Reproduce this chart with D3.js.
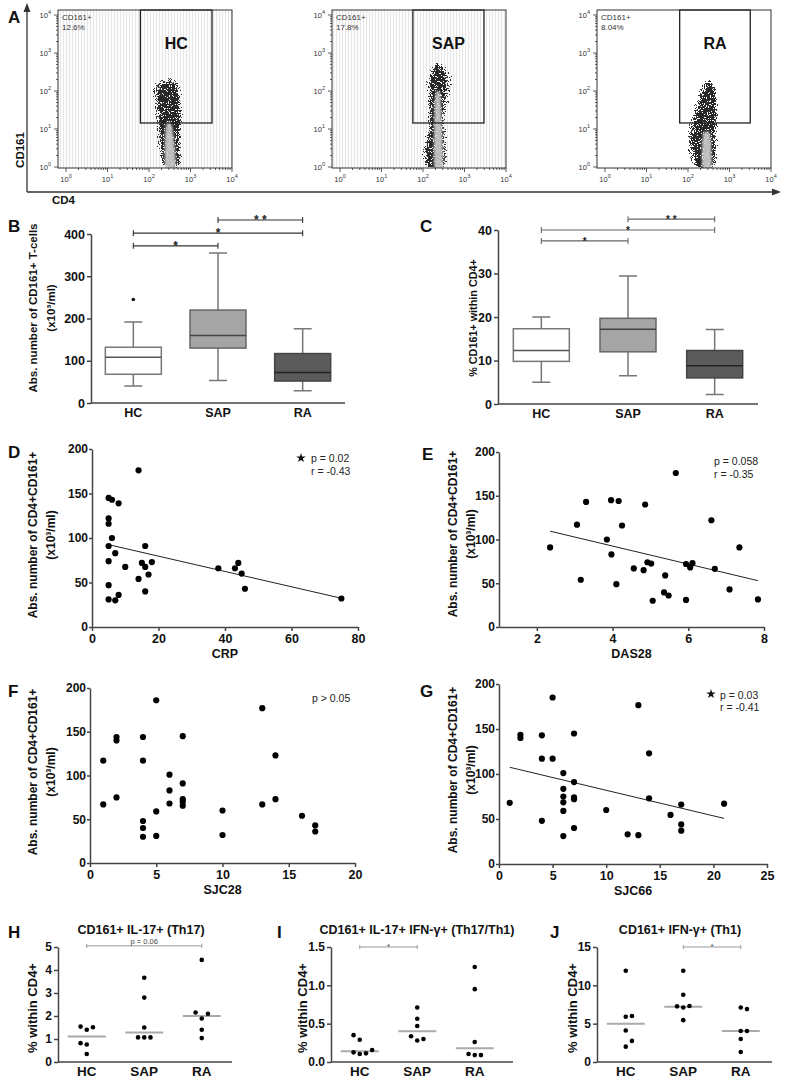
<!DOCTYPE html>
<html><head><meta charset="utf-8">
<script src="https://cdn.jsdelivr.net/npm/d3@7/dist/d3.min.js"></script>
<style>html,body{margin:0;padding:0;background:#fff}svg{display:block}</style>
</head><body><svg id="fig" width="790" height="1084"></svg>
<script>
// ================= DATA =================
// Panel A: flow cytometry, CD4 (x) vs CD161 (y)
const flowGroups = ["HC", "SAP", "RA"];
const flowPercents = ["12.6%", "17.8%", "8.04%"];
const flowDecades = [1, 10, 100, 1000, 10000];
const gateCD4Low = [62, 57, 63];
const gateCD4High = [3300, 2950, 3160];
const gateCD161Low = [14.4, 14.4, 14.4];
// event-cloud outlines as [CD4, CD161] pairs
const hcHalo = [[200,0.9],[140,3],[125,10],[120,32],[95,80],[110,150],[200,260],[320,280],[500,230],[700,130],[760,32],[750,10],[720,3],[680,0.9]];
const hcBody = [[220,0.9],[170,3],[160,10],[152,32],[140,90],[195,170],[290,200],[420,180],[580,90],[650,32],[640,10],[610,3],[590,0.9]];
const hcCore = [[250,0.9],[240,3],[250,10],[290,16],[360,12],[420,3],[430,0.9]];
const sapHalo = [[100,0.9],[85,3],[110,14],[100,150],[150,600],[240,700],[330,600],[600,200],[420,14],[460,3],[400,0.9]];
const sapBody = [[118,0.9],[105,3],[135,14],[130,160],[175,500],[240,580],[300,500],[420,160],[330,14],[370,3],[330,0.9]];
const sapCore = [[190,0.9],[185,10],[200,80],[260,85],[290,10],[300,0.9]];
const raHalo = [[120,0.9],[80,5],[100,21],[160,120],[260,250],[400,240],[600,110],[650,21],[600,5],[540,0.9]];
const raBody = [[150,0.9],[105,5],[135,21],[195,107],[275,200],[380,200],[500,107],[540,21],[500,5],[470,0.9]];
const raCore = [[225,0.9],[220,4],[240,8],[330,8],[360,4],[365,0.9]];

// Panels B, C: box plots
const boxCats = ["HC", "SAP", "RA"];
const bLow = [40, 53, 29], bQ1 = [68, 130, 52], bMed = [108, 160, 72], bQ3 = [132, 220, 117], bHigh = [192, 355, 176];
const bOutlierCats = ["HC"], bOutlierVals = [245];
const bTicks = [0, 100, 200, 300, 400];
const bBrackets = [["SAP", "RA", "* *", 433], ["HC", "RA", "*", 402], ["HC", "SAP", "*", 372]];
const cLow = [5, 6.5, 2.2], cQ1 = [9.8, 12, 6], cMed = [12.3, 17.2, 8.8], cQ3 = [17.3, 19.7, 12.3], cHigh = [20, 29.4, 17.1];
const cTicks = [0, 10, 20, 30, 40];
const cBrackets = [["SAP", "RA", "* *", 42.5], ["HC", "RA", "*", 40], ["HC", "SAP", "*", 37.5]];

// Panels D-G: correlations with CD4+CD161+ absolute numbers
const absTicks = [0, 50, 100, 150, 200];
const dCRP = [5,6,8,5,5,6,5,7,5,10,5,5,7,8,14,16,15,16,18,17,14,16,38,43,44,45,46,75];
const dAbs = [145,143,139,122,116,100,91,83,74,67.5,47,31,30,36,176,91,72,67.5,73,59,54,40,66,66,72,60,43,32];
const dTrend = [-0.86, 96.8];
const dTicks = [0, 20, 40, 60, 80];
const eDAS = [2.35,3.06,3.16,3.3,3.85,3.96,3.97,4.1,4.16,4.25,4.56,4.82,4.86,4.92,5.02,5.06,5.39,5.36,5.48,5.67,5.94,5.94,6.05,6.11,6.61,6.7,7.09,7.35,7.84];
const eAbs = [91,117,54,143,100,145,83,49,144,116,67,65,140,74,72.5,30,59,39.5,36,176,72,31,68,73,122,66.5,43,91,31.5];
const eTrend = [-10.3, 133.7];
const eTicks = [2, 4, 6, 8];
const fSJC = [1,1,2,2,2,4,4,4,4,4,5,5,5,6,6,6,7,7,7,7,7,10,10,13,13,14,14,16,17,17];
const fAbs = [117,67,144,140,75,144,117,48,40,30,186,59,31,101,83,68,145,91,73,70,65.5,60,32,177,67,123,73,54,43,36];
const fTicks = [0, 5, 10, 15, 20];
const gSJC = [1,2,2,4,4,4,5,5,6,6,6,6,6,6,7,7,7,7,7,10,12,13,13,14,14,16,17,17,17,21];
const gAbs = [68,143.5,140,143,117,48,185,117,101,83.5,75,68.5,59,31,145,91,74,72,40,60,33,32,176.5,123,73,54.5,66,44,37,67];
const gTrend = [-2.84, 110.3];
const gTicks = [0, 5, 10, 15, 20, 25];

// Panels H-J: % within CD4+
const hHC = [1.4,1.54,1.51,0.76,0.82,0.35], hSAP = [3.66,2.8,1.5,1.07,1.07,1.07], hRA = [4.44,1.89,2.15,2.1,1.4,1.04];
const hMed = [1.11, 1.28, 2.0];
const hTicks = [0,1,2,3,4,5];
const iHC = [0.104,0.126,0.113,0.157,0.29,0.35], iSAP = [0.71,0.565,0.47,0.28,0.335,0.30], iRA = [1.24,0.95,0.26,0.09,0.104,0.09];
const iMed = [0.14, 0.40, 0.18];
const iTicks = [0, 0.5, 1.0, 1.5];
const jHC = [11.9,5.9,6.0,4.1,2.0,2.75], jSAP = [11.9,8.77,7.1,7.3,7.26,5.46], jRA = [7.1,6.9,4.04,4.04,3.0,1.3];
const jMed = [5.0, 7.2, 4.05];
const jTicks = [0,5,10,15];

// ================= DRAWING =================
const FONT = "'Liberation Sans', Arial, Helvetica, sans-serif";
const svg = d3.select("#fig").attr("font-family", FONT);
const defs = svg.append("defs");

const stripe = defs.append("pattern").attr("id","stripes").attr("width",3).attr("height",10).attr("patternUnits","userSpaceOnUse");
stripe.append("rect").attr("width",3).attr("height",10).attr("fill","#fcfcfc");
stripe.append("rect").attr("width",1).attr("height",10).attr("fill","#e6e6e6");

// speckle filter: blurred shape x noise -> thresholded dots (density falls off at edges)
function speckleFilter(id, blur, offset, color, seed) {
  const f = defs.append("filter").attr("id", id).attr("x", "-30%").attr("y", "-30%").attr("width", "160%").attr("height", "160%");
  f.append("feGaussianBlur").attr("in", "SourceAlpha").attr("stdDeviation", blur).attr("result", "b");
  f.append("feTurbulence").attr("type", "fractalNoise").attr("baseFrequency", 0.85).attr("numOctaves", 2).attr("seed", seed).attr("result", "n");
  f.append("feColorMatrix").attr("in", "n").attr("type", "matrix")
    .attr("values", "0 0 0 0 0  0 0 0 0 0  0 0 0 0 0  1 0 0 0 0").attr("result", "na");
  f.append("feComposite").attr("in", "b").attr("in2", "na").attr("operator", "arithmetic")
    .attr("k1", 0).attr("k2", 1).attr("k3", 1).attr("k4", offset).attr("result", "m");
  const ct = f.append("feComponentTransfer").attr("in", "m").attr("result", "t");
  ct.append("feFuncA").attr("type", "discrete").attr("tableValues", "0 1");
  f.append("feFlood").attr("flood-color", color).attr("result", "fl");
  f.append("feComposite").attr("in", "fl").attr("in2", "t").attr("operator", "in");
}
speckleFilter("spkBody", 2.0, -0.93, "#262626", 4);
speckleFilter("spkHalo", 3.0, -1.02, "#333", 9);
defs.append("filter").attr("id", "soft").append("feGaussianBlur").attr("stdDeviation", 0.8);

function label(x, y, s, size, opts = {}) {
  return svg.append("text").attr("x", x).attr("y", y).attr("font-size", size)
    .attr("font-weight", opts.weight || "bold").attr("fill", opts.fill || "#111")
    .attr("text-anchor", opts.anchor || "start").text(s);
}
function yTitle(cx, cy, lines, size, gap) {
  const t = svg.append("text").attr("transform", `translate(${cx},${cy}) rotate(-90)`)
    .attr("text-anchor", "middle").attr("font-weight", "bold").attr("font-size", size).attr("fill", "#111");
  lines.forEach((l, i) => t.append("tspan").attr("x", 0).attr("dy", i ? gap : 0).text(l));
}
function styleAxis(g, size) {
  g.attr("font-family", FONT);
  g.select(".domain").attr("stroke", "#444").attr("stroke-width", 1.5);
  g.selectAll(".tick line").attr("stroke", "#444").attr("stroke-width", 1.5);
  g.selectAll(".tick text").attr("font-size", size).attr("font-weight", "bold").attr("fill", "#111");
}

// ---------- Panel A ----------
label(8, 23, "A", 17);
const flowLeft = [58, 332, 597], flowW = 174, fTop = 10, fBot = 168;
const halos = [hcHalo, sapHalo, raHalo], bodies = [hcBody, sapBody, raBody], cores = [hcCore, sapCore, raCore];
const flowStriped = [true, true, false];
flowGroups.forEach((grp, i) => {
  const L = flowLeft[i], R = L + flowW;
  const x = d3.scaleLog().domain([1, 1e4]).range([L + 8, R]);
  const y = d3.scaleLog().domain([1, 1e4]).range([167, 15]);
  const g = svg.append("g");
  defs.append("clipPath").attr("id", "fc" + i).append("rect").attr("x", L).attr("y", fTop).attr("width", flowW).attr("height", fBot - fTop);
  g.append("rect").attr("x", L).attr("y", fTop).attr("width", flowW).attr("height", fBot - fTop)
    .attr("fill", flowStriped[i] ? "url(#stripes)" : "#fff");
  const line = d3.line().x(d => x(d[0])).y(d => y(d[1])).curve(d3.curveCardinalClosed.tension(0.2));
  const cg = g.append("g").attr("clip-path", `url(#fc${i})`);
  cg.append("path").attr("d", line(halos[i])).attr("fill", "#000").attr("filter", "url(#spkHalo)");
  cg.append("path").attr("d", line(bodies[i])).attr("fill", "#000").attr("filter", "url(#spkBody)");
  cg.append("path").attr("d", line(cores[i])).attr("fill", "#cdcdcd").attr("opacity", 0.9).attr("filter", "url(#soft)");
  // gate
  const gx0 = x(gateCD4Low[i]), gx1 = x(gateCD4High[i]);
  g.append("rect").attr("x", gx0).attr("y", fTop).attr("width", gx1 - gx0).attr("height", y(gateCD161Low[i]) - fTop)
    .attr("fill", "none").attr("stroke", "#222").attr("stroke-width", 1.3);
  label((gx0 + gx1) / 2, 49, grp, 16, {anchor: "middle"});
  // frame
  g.append("rect").attr("x", L).attr("y", fTop).attr("width", flowW).attr("height", fBot - fTop)
    .attr("fill", "none").attr("stroke", "#333").attr("stroke-width", 1);
  label(L + 4, 20, "CD161+", 8, {weight: "normal", fill: "#333"});
  label(L + 4, 30, flowPercents[i], 8, {weight: "normal", fill: "#333"});
  // ticks
  const ticks = [];
  for (let k = 0; k < 4; k++) for (let m = 1; m < 10; m++) ticks.push(m * Math.pow(10, k));
  ticks.push(1e4);
  const isMajor = v => flowDecades.includes(v);
  g.selectAll(".yt").data(ticks).join("line").attr("x1", L).attr("x2", d => L - (isMajor(d) ? 4 : 2))
    .attr("y1", d => y(d)).attr("y2", d => y(d)).attr("stroke", "#333").attr("stroke-width", 0.8);
  g.selectAll(".xt").data(ticks).join("line").attr("y1", fBot).attr("y2", d => fBot + (isMajor(d) ? 4 : 2))
    .attr("x1", d => x(d)).attr("x2", d => x(d)).attr("stroke", "#333").attr("stroke-width", 0.8);
  flowDecades.forEach((v, k) => {
    const ty = g.append("text").attr("x", L - 7).attr("y", y(v) + 3).attr("text-anchor", "end")
      .attr("font-size", 7.5).attr("fill", "#333");
    ty.append("tspan").text("10");
    ty.append("tspan").attr("font-size", 5.5).attr("dy", -4).text(String(k));
    const tx = g.append("text").attr("x", x(v)).attr("y", 182).attr("text-anchor", "middle")
      .attr("font-size", 7.5).attr("fill", "#333");
    tx.append("tspan").text("10");
    tx.append("tspan").attr("font-size", 5.5).attr("dy", -4).text(String(k));
  });
});
// arrows
svg.append("path").attr("d", "M27,192V10M27,192H774").attr("stroke", "#333").attr("stroke-width", 1.3).attr("fill", "none");
svg.append("path").attr("d", "M27,3L23.5,12L30.5,12Z M781,192L772,188.5L772,195.5Z").attr("fill", "#333");
svg.append("text").attr("transform", "translate(24,150) rotate(-90)").attr("text-anchor", "middle")
  .attr("font-size", 11.5).attr("font-weight", "bold").attr("fill", "#111").text("CD161");
label(52, 204, "CD4", 11.5);

// ---------- Box panels ----------
function boxPanel(o) {
  const x = d3.scaleBand().domain(boxCats).range([o.x0, o.x1]);
  const y = d3.scaleLinear().domain([0, o.max]).range([o.y0, o.y1]);
  const cx = c => x(c) + x.bandwidth() / 2;
  const g = svg.append("g");
  const bw = 56, cap = 9;
  const fills = ["#ffffff", "#a5a5a5", "#5b5b5b"], strokes = ["#777", "#666", "#444"], meds = ["#555", "#444", "#222"];
  boxCats.forEach((c, i) => {
    const X = cx(c);
    g.append("path").attr("d", `M${X},${y(o.high[i])}V${y(o.q3[i])}M${X},${y(o.q1[i])}V${y(o.low[i])}M${X - cap},${y(o.high[i])}H${X + cap}M${X - cap},${y(o.low[i])}H${X + cap}`)
      .attr("stroke", "#777").attr("stroke-width", 1.5).attr("fill", "none");
    g.append("rect").attr("x", X - bw / 2).attr("y", y(o.q3[i])).attr("width", bw).attr("height", y(o.q1[i]) - y(o.q3[i]))
      .attr("fill", fills[i]).attr("stroke", strokes[i]).attr("stroke-width", 1.5);
    g.append("line").attr("x1", X - bw / 2).attr("x2", X + bw / 2).attr("y1", y(o.med[i])).attr("y2", y(o.med[i]))
      .attr("stroke", meds[i]).attr("stroke-width", 1.5);
  });
  if (o.outCats) o.outCats.forEach((c, k) => g.append("circle").attr("cx", cx(c)).attr("cy", y(o.outVals[k])).attr("r", 1.8).attr("fill", "#111"));
  const ya = g.append("g").attr("transform", `translate(${o.x0},0)`).call(d3.axisLeft(y).tickValues(o.ticks).tickSize(4).tickPadding(2).tickSizeOuter(0));
  styleAxis(ya, 12.5);
  g.append("line").attr("x1", o.x0).attr("x2", o.x1).attr("y1", o.y0).attr("y2", o.y0).attr("stroke", "#444").attr("stroke-width", 1.5);
  boxCats.forEach(c => label(cx(c), o.y0 + 14, c, 12.5, {anchor: "middle"}));
  o.brackets.forEach(b => {
    const x1 = cx(b[0]), x2 = cx(b[1]), yy = y(b[3]);
    g.append("path").attr("d", `M${x1},${yy - 3}V${yy + 3}M${x1},${yy}H${x2}M${x2},${yy - 3}V${yy + 3}`)
      .attr("stroke", o.bColor).attr("stroke-width", 1.1).attr("fill", "none");
    label((x1 + x2) / 2, yy + 4, b[2], o.starSize, {anchor: "middle", fill: "#222"});
  });
}
label(8, 232, "B", 17);
boxPanel({x0: 91, x1: 345, y0: 403, y1: 234, max: 400, ticks: bTicks, low: bLow, q1: bQ1, med: bMed, q3: bQ3, high: bHigh,
  outCats: bOutlierCats, outVals: bOutlierVals, brackets: bBrackets, bColor: "#333", starSize: 12});
yTitle(37, 308, ["Abs. number of CD161+ T-cells", "(x10³/ml)"], 11.5, 18);
label(420, 232, "C", 17);
boxPanel({x0: 498, x1: 758, y0: 404, y1: 230, max: 40, ticks: cTicks, low: cLow, q1: cQ1, med: cMed, q3: cQ3, high: cHigh,
  brackets: cBrackets, bColor: "#666", starSize: 10});
yTitle(477, 318, ["% CD161+ within CD4+"], 10.8, 0);

// ---------- Scatter panels ----------
function scatterPanel(o) {
  const x = d3.scaleLinear().domain(o.xDom).range([o.x0, o.x1]);
  const y = d3.scaleLinear().domain([0, 200]).range([o.y0, o.y1]);
  const g = svg.append("g");
  const xa = g.append("g").attr("transform", `translate(0,${o.y0})`)
    .call(d3.axisBottom(x).tickValues(o.xTicks).tickFormat(d3.format("d")).tickSize(4).tickSizeOuter(0));
  styleAxis(xa, 12.5);
  const ya = g.append("g").attr("transform", `translate(${o.x0},0)`)
    .call(d3.axisLeft(y).tickValues(absTicks).tickFormat(d3.format("d")).tickSize(3).tickPadding(1).tickSizeOuter(0));
  styleAxis(ya, 12);
  if (o.trend) {
    const ext = d3.extent(o.xs);
    g.append("line").attr("x1", x(ext[0])).attr("x2", x(ext[1]))
      .attr("y1", y(o.trend[0] * ext[0] + o.trend[1])).attr("y2", y(o.trend[0] * ext[1] + o.trend[1]))
      .attr("stroke", "#222").attr("stroke-width", 1);
  }
  g.selectAll("circle").data(o.xs.map((v, i) => [v, o.ys[i]])).join("circle")
    .attr("cx", d => x(d[0])).attr("cy", d => y(d[1])).attr("r", 3.1).attr("fill", "#000");
  label((o.x0 + o.x1) / 2, o.y0 + 31, o.xLabel, 12.5, {anchor: "middle"});
  if (o.star) g.append("path").attr("d", d3.symbol(d3.symbolStar, 28)()).attr("transform", `translate(${o.star[0]},${o.star[1]})`).attr("fill", "#111");
  o.notes.forEach(n => label(n[0], n[1], n[2], 10.5, {weight: "normal", fill: "#222"}));
}
label(8, 458, "D", 17);
scatterPanel({x0: 92, x1: 358, y0: 627, y1: 449, xDom: [0, 80], xTicks: dTicks, xs: dCRP, ys: dAbs, trend: dTrend, xLabel: "CRP",
  star: [301, 458], notes: [[311, 462, "p = 0.02"], [311, 475, "r  = -0.43"]]});
yTitle(37, 535, ["Abs. number of CD4+CD161+", "(x10³/ml)"], 12, 18);
label(422, 460, "E", 17);
scatterPanel({x0: 499, x1: 764, y0: 627, y1: 452, xDom: [1, 8], xTicks: eTicks, xs: eDAS, ys: eAbs, trend: eTrend, xLabel: "DAS28",
  notes: [[714, 465, "p = 0.058"], [714, 478, "r  = -0.35"]]});
yTitle(457, 534, ["Abs. number of CD4+CD161+", "(x10³/ml)"], 12, 18);
label(8, 697, "F", 17);
scatterPanel({x0: 90, x1: 355, y0: 863, y1: 688, xDom: [0, 20], xTicks: fTicks, xs: fSJC, ys: fAbs, xLabel: "SJC28",
  notes: [[312, 702, "p > 0.05"]]});
yTitle(37, 772, ["Abs. number of CD4+CD161+", "(x10³/ml)"], 12, 18);
label(420, 697, "G", 17);
scatterPanel({x0: 499, x1: 767, y0: 864, y1: 684, xDom: [0, 25], xTicks: gTicks, xs: gSJC, ys: gAbs, trend: gTrend, xLabel: "SJC66",
  star: [711, 694], notes: [[720, 699, "p = 0.03"], [720, 711, "r  = -0.41"]]});
yTitle(457, 770, ["Abs. number of CD4+CD161+", "(x10³/ml)"], 12, 18);

// ---------- Dot panels ----------
function dotPanel(o) {
  const x = d3.scaleBand().domain(boxCats).range([o.x0, o.x0 + 172.5]);
  const y = d3.scaleLinear().domain([0, o.max]).range([1062, 947]);
  const cx = c => x(c) + x.bandwidth() / 2;
  const g = svg.append("g");
  const ya = g.append("g").attr("transform", `translate(${o.x0},0)`)
    .call(d3.axisLeft(y).tickValues(o.ticks).tickSize(4).tickPadding(2).tickSizeOuter(0).tickFormat(o.fmt));
  styleAxis(ya, 12);
  g.append("line").attr("x1", o.x0).attr("x2", o.x0 + o.axisLen).attr("y1", 1062).attr("y2", 1062).attr("stroke", "#444").attr("stroke-width", 1.5);
  boxCats.forEach((c, i) => {
    const X = cx(c);
    g.append("line").attr("x1", X - 19).attr("x2", X + 19).attr("y1", y(o.med[i])).attr("y2", y(o.med[i])).attr("stroke", "#aaa").attr("stroke-width", 2);
    // simple beeswarm: slots of 6px, avoid vertical overlap < 7px
    const placed = [];
    o.groups[i].forEach(v => {
      const py = y(v);
      const slot = o.slots.find(s => !placed.some(p => p.s === s && Math.abs(p.y - py) < 7));
      placed.push({s: slot, y: py});
      g.append("circle").attr("cx", X + slot * 6.2).attr("cy", py).attr("r", 2.3).attr("fill", "#000");
    });
    label(X, 1076, c, 13.5, {anchor: "middle"});
  });
  const b = o.bracket, x1 = cx(b[0]), x2 = cx(b[1]), yy = y(b[3]);
  g.append("path").attr("d", `M${x1},${yy - 2}V${yy + 2}M${x1},${yy}H${x2}M${x2},${yy - 2}V${yy + 2}`)
    .attr("stroke", "#999").attr("stroke-width", 1).attr("fill", "none");
  label((x1 + x2) / 2, b[2] === "*" ? yy + 2 : yy - 2, b[2], b[2] === "*" ? 8 : 7.5, {anchor: "middle", weight: "normal", fill: "#444"});
  label(o.titleX, 934, o.title, 12.5, {anchor: "middle"});
  yTitle(o.labelX, 1008, ["% within CD4+"], 13, 0);
}
label(8, 938, "H", 17);
dotPanel({x0: 58, axisLen: 174, max: 5, ticks: hTicks, fmt: d3.format("d"), groups: [hHC, hSAP, hRA], med: hMed,
  slots: [0, -1, 1, 2, -2], bracket: ["HC", "RA", "p = 0.06", 5.05], title: "CD161+ IL-17+ (Th17)", titleX: 141, labelX: 37});
label(277, 938, "I", 17);
dotPanel({x0: 331, axisLen: 182, max: 1.5, ticks: iTicks, fmt: d3.format(".1f"), groups: [iHC, iSAP, iRA], med: iMed,
  slots: [0, -1, 1, 2, -2], bracket: ["HC", "SAP", "*", 1.5], title: "CD161+ IL-17+ IFN-γ+ (Th17/Th1)", titleX: 417, labelX: 307});
label(550, 938, "J", 17);
dotPanel({x0: 597, axisLen: 175, max: 15, ticks: jTicks, fmt: d3.format("d"), groups: [jHC, jSAP, jRA], med: jMed,
  slots: [0, 1, -1, 2, -2], bracket: ["SAP", "RA", "*", 15], title: "CD161+ IFN-γ+ (Th1)", titleX: 680, labelX: 577});
</script></body></html>
